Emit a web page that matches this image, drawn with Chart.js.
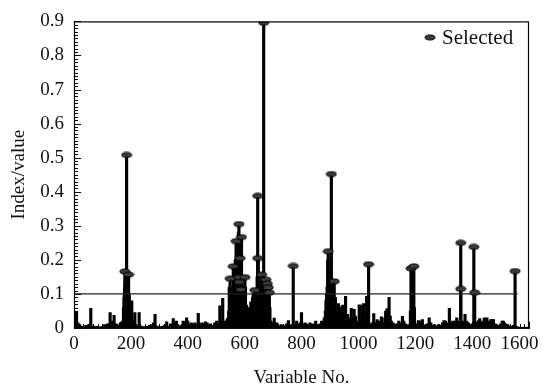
<!DOCTYPE html>
<html><head><meta charset="utf-8">
<script src="https://cdn.jsdelivr.net/npm/chart.js@4"></script>
<style>html,body{margin:0;padding:0;background:#fff}</style>
</head><body><canvas id="c" width="545" height="389"></canvas>
<script>
// ---- data ----
const barX = [
  2,5,9,14,20,30,42,52,59,68,80,95,108,118,127,133,141,148,155,163,168,172,
  174,176,177,178,180,181,182,183,184,186,187,188,189,190,191,193,194,196,198,200,203,206,
  210,214,220,229,236,245,255,265,272,280,285,292,300,310,318,326,333,340,349,355,360,366,372,380,384,390,396,400,
  405,412,418,425,432,437,443,450,456,462,468,474,480,488,495,502,508,513,518,523,528,533,538,
  541,544,546,548,553,556,558,562,565,567,569,574,576,578,583,586,590,592,594,596,598,600,603,605,607,610,614,618,622,625,628,630,633,638,640,642,644,648,650,652,654,656,659,662,664,666,669,671,674,677,679,682,684,689,692,697,
  704,710,713,720,728,735,742,748,754,760,766,778,783,790,797,800,806,812,818,824,830,836,843,850,856,862,866,871,876,880,884,
  886,888,890,892,896,898,900,902,903,907,909,911,913,917,919,921,924,
  930,934,937,941,945,950,955,959,962,966,970,975,980,985,990,995,1003,1008,1012,1018,1023,1029,1032,1042,1048,1054,1060,1066,1070,1075,1081,1088,1093,1096,1101,1105,1108,1112,1116,1122,1128,1134,1142,1148,1155,1160,1165,1170,1176,
  1183,1187,1189,1191,1193,1197,1200,
  1205,1211,1217,1225,1232,1238,1244,1249,1255,1262,1268,1275,1282,1290,1296,1301,1306,1312,1320,1326,1332,1340,1346,1352,1356,1365,1370,1375,1381,1387,1393,1400,1414,1418,1423,1427,1432,1438,1443,1452,1456,1460,1466,1470,1475,1480,1485,1492,1500,1506,1510,1515,1520,1525,1530,1540,1545,1558
];
const barY = [
  0.05,0.03,0.047,0.015,0.01,0.005,0.008,0.01,0.058,0.006,0.005,0.004,0.01,0.012,0.045,0.02,0.037,0.012,0.008,0.015,0.018,0.02,
  0.06,0.09,0.1,0.12,0.14,0.15,0.16,0.1,0.12,0.15,0.14,0.1,0.12,0.13,0.09,0.1,0.095,0.08,0.06,0.05,0.08,0.02,
  0.01,0.045,0.008,0.045,0.006,0.004,0.005,0.008,0.01,0.015,0.04,0.006,0.004,0.005,0.008,0.018,0.006,0.012,0.028,0.015,0.02,0.008,0.006,0.01,0.02,0.018,0.03,0.02,
  0.01,0.015,0.012,0.015,0.01,0.043,0.012,0.015,0.012,0.018,0.015,0.01,0.012,0.008,0.015,0.02,0.012,0.065,0.02,0.087,0.015,0.02,0.025,
  0.03,0.05,0.12,0.04,0.09,0.1,0.12,0.13,0.16,0.2,0.1,0.2,0.22,0.28,0.19,0.2,0.15,0.1,0.12,0.09,0.1,0.08,0.12,0.06,0.067,0.03,0.06,0.04,0.077,0.05,0.09,0.1,0.08,0.09,0.1,0.05,0.15,0.2,0.1,0.06,0.12,0.08,0.14,0.1,0.12,0.09,0.11,0.13,0.1,0.09,0.1,0.08,0.1,0.06,0.02,0.015,
  0.029,0.008,0.015,0.006,0.01,0.008,0.005,0.012,0.022,0.01,0.008,0.01,0.02,0.012,0.015,0.045,0.01,0.015,0.012,0.008,0.015,0.01,0.012,0.02,0.01,0.008,0.012,0.02,0.015,0.03,0.05,
  0.08,0.1,0.12,0.2,0.15,0.12,0.1,0.15,0.2,0.13,0.1,0.12,0.1,0.08,0.09,0.05,0.04,
  0.072,0.04,0.062,0.03,0.067,0.02,0.093,0.03,0.04,0.02,0.03,0.058,0.03,0.055,0.035,0.02,0.068,0.03,0.067,0.072,0.04,0.093,0.05,0.01,0.015,0.042,0.015,0.025,0.01,0.02,0.033,0.015,0.03,0.05,0.057,0.045,0.09,0.035,0.02,0.015,0.01,0.012,0.02,0.015,0.034,0.02,0.012,0.008,0.01,
  0.05,0.17,0.17,0.17,0.17,0.06,0.01,
  0.012,0.022,0.02,0.025,0.008,0.01,0.012,0.03,0.015,0.008,0.01,0.006,0.01,0.008,0.015,0.022,0.02,0.015,0.058,0.015,0.02,0.02,0.03,0.015,0.02,0.015,0.02,0.04,0.02,0.015,0.01,0.012,0.01,0.018,0.022,0.028,0.015,0.02,0.03,0.03,0.015,0.02,0.025,0.025,0.025,0.012,0.01,0.008,0.012,0.02,0.02,0.015,0.01,0.01,0.006,0.005,0.008,0.004
];
const selX = [185,179,192,549,560,570,580,589,584,581,581,587,601,636,646,646,667,660,675,680,683,687,771,894,905,915,1036,1185,1195,1360,1360,1406,1409,1551];
const selY = [0.508,0.166,0.157,0.145,0.181,0.255,0.305,0.267,0.205,0.149,0.135,0.113,0.149,0.111,0.388,0.205,0.896,0.157,0.142,0.13,0.119,0.104,0.182,0.225,0.452,0.137,0.187,0.175,0.181,0.25,0.115,0.238,0.104,0.167];
const thresholdX = [0, 1560];
const thresholdY = [0.1, 0.1];
const seriesName = 'Selected';
const xTitle = 'Variable No.';
const yTitle = 'Index/value';

// ---- build ----
const barData = barX.map((x,i)=>({x, y: barY[i]})).concat(selX.map((x,i)=>({x, y: selY[i]})));
const selData = selX.map((x,i)=>({x, y: selY[i]}));
const lineData = thresholdX.map((x,i)=>({x, y: thresholdY[i]}));

function ellipseMarker(w,h){
  const c=document.createElement('canvas');c.width=w+2;c.height=h+2;
  const g=c.getContext('2d');g.beginPath();
  g.ellipse((w+2)/2,(h+2)/2,w/2,h/2,0,0,Math.PI*2);
  g.fillStyle='#3a3a3a';g.fill();g.lineWidth=1;g.strokeStyle='#000';g.stroke();
  return c;
}
const marker = ellipseMarker(10,5);

const FONT = "'Liberation Serif','Times New Roman',serif";

const framePlugin = {
  id:'frame',
  afterDraw(chart){
    const ctx = chart.ctx, a = chart.chartArea;
    const x = chart.scales.x, y = chart.scales.y;
    ctx.save();
    ctx.strokeStyle = '#000';
    ctx.lineWidth = 1.2;
    ctx.strokeRect(a.left + 0.5, a.top + 0.5, a.right - a.left - 1, a.bottom - a.top - 1);
    ctx.lineWidth = 1;
    ctx.beginPath();
    for (let k = 0; k <= 96; k++) {
      const px = Math.round(x.getPixelForValue(k * 200 / 12)) + 0.5;
      const len = (k % 12 === 0) ? 6 : 4;
      ctx.moveTo(px, a.bottom); ctx.lineTo(px, a.bottom - len);
    }
    for (let k = 0; k <= 90; k++) {
      const py = Math.round(y.getPixelForValue(k / 100)) + 0.5;
      const len = (k % 10 === 0) ? 7 : 4;
      ctx.moveTo(a.left, py); ctx.lineTo(a.left + len, py);
    }
    ctx.stroke();
    const lx = a.right - 99, ly = a.top + 16;
    ctx.drawImage(marker, lx - marker.width / 2, ly - marker.height / 2);
    ctx.fillStyle = '#111'; ctx.font = "21px " + FONT; ctx.textBaseline = 'middle'; ctx.textAlign = 'left';
    ctx.fillText(seriesName, lx + 12, ly + 1);
    ctx.restore();
  }
};

new Chart(document.getElementById('c'), {
  type:'bar',
  data:{datasets:[
    {type:'scatter', label:seriesName, data:selData, pointStyle:marker, pointRadius:5, order:0},
    {type:'line', label:'threshold', data:lineData, borderColor:'#222', borderWidth:1.2, pointRadius:0, order:1},
    {type:'bar', label:'value', data:barData, backgroundColor:'#000', borderWidth:0, barThickness:2.5, order:2}
  ]},
  options:{
    responsive:false, animation:false, devicePixelRatio:1,
    layout:{padding:{top:17,right:16,left:0,bottom:0}},
    plugins:{legend:{display:false}, tooltip:{enabled:false}},
    scales:{
      x:{type:'linear', min:0, max:1600, offset:false,
        afterFit(s){ s.height = 61; s.paddingRight = 0; },
        grid:{display:false, drawTicks:false, offset:false},
        border:{display:true, color:'#111'},
        ticks:{stepSize:200, padding:5, color:'#111', font:{family:FONT, size:19}, maxRotation:0, minRotation:0, autoSkip:false,
          callback:(v)=> v === 1600 ? '1600\u2002\u2002' : String(v)},
        title:{display:true, text:xTitle, color:'#111', font:{family:FONT, size:19}, padding:{top:0,bottom:0}}
      },
      y:{min:0, max:0.9,
        afterFit(s){ s.width = 74; },
        grid:{display:false, drawTicks:false},
        border:{display:true, color:'#111'},
        ticks:{stepSize:0.1, padding:10, color:'#111', font:{family:FONT, size:19},
          callback:(v)=>String(Math.round(v*10)/10)},
        title:{display:true, text:yTitle, color:'#111', font:{family:FONT, size:19}, padding:{top:8,bottom:0}}
      }
    }
  },
  plugins:[framePlugin]
});
</script></body></html>
